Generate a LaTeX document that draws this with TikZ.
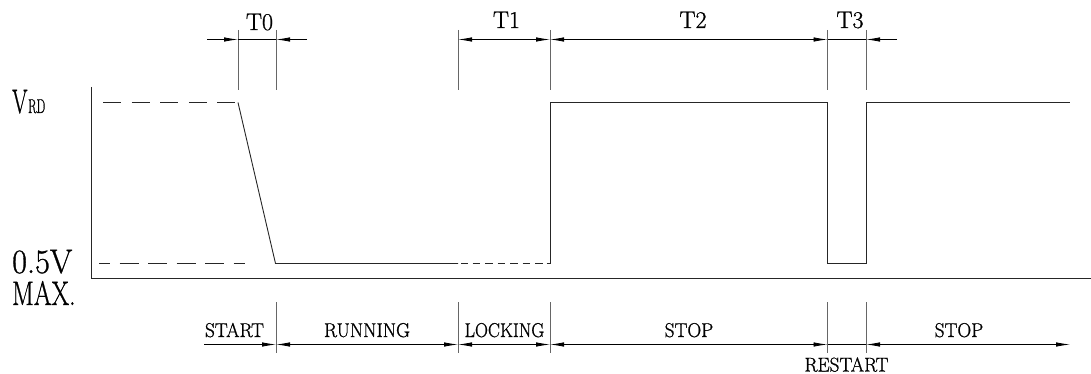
\documentclass[tikz,border=0pt]{standalone}
\usepackage{fontspec}
\newfontfamily\lmh[FakeBold=0.9]{Latin Modern Roman}
\usetikzlibrary{arrows.meta}
\tikzset{
  wave/.style={line width=0.9pt,black!85},
  dashwave/.style={wave,dash pattern=on 18pt off 10.6pt},
  tick/.style={line width=0.9pt,black!60},
  dimline/.style={line width=0.8pt,black,{Latex[length=14pt,width=4.5pt]}-{Latex[length=14pt,width=4.5pt]}},
  endtip/.style={line width=0.8pt,black,-{Latex[length=14pt,width=4.5pt]}},
  lab/.style={inner sep=0pt,anchor=base,xscale=1,font=\lmh\fontsize{24}{24}\selectfont},
  small/.style={inner sep=0pt,anchor=base,xscale=1.0,font=\lmh\fontsize{20}{20}\selectfont},
  big/.style={inner sep=0pt,anchor=base west,font=\lmh\fontsize{34}{34}\selectfont},
}
\begin{document}
\begin{tikzpicture}[x=1pt,y=-1pt]
\useasboundingbox (0,0) rectangle (1091,374);
% axes
\coordinate (axT) at (91.5,87);
\coordinate (axO) at (91.5,278.5);
\coordinate (axR) at (1091,278.5);
\draw[wave] (axT) -- (axO) -- (axR);
% waveform
\coordinate (v1) at (103,102.5);
\coordinate (v2) at (238,102.5);
\coordinate (v3) at (275.5,263.5);
\coordinate (v4) at (458,263.5);
\coordinate (v5) at (550,263.5);
\coordinate (v6) at (550,102.5);
\coordinate (v7) at (827.5,102.5);
\coordinate (v8) at (827.5,263.5);
\coordinate (v9) at (866,263.5);
\coordinate (v10) at (866,102.5);
\coordinate (v11) at (1070,102.5);
\coordinate (d1) at (99,263.5);
\coordinate (d2) at (245,263.5);
\draw[dashwave] (v1) -- (v2);
\draw[wave] (v2) -- (v3) -- (v4);
\draw[wave,dash pattern=on 0pt off 3pt on 6.5pt off 5pt on 7.5pt off 5pt on 7.5pt off 5pt on 7.5pt off 5pt on 7.5pt off 5pt on 7.5pt off 5pt on 7.5pt off 4pt on 10pt off 0pt] (v4) -- (v5);
\draw[wave] (v5) -- (v6) -- (v7) -- (v8) -- (v9) -- (v10) -- (v11);
\draw[wave,dash pattern=on 11pt off 9.5pt on 19pt off 9.5pt on 19pt off 9.5pt on 19pt off 9.5pt on 19pt off 9.5pt on 19pt off 9.5pt on 12pt off 20pt] (d1) -- (d2);
% ticks
\foreach \n/\x in {a/238,b/276,c/458,d/550,e/827.5,f/866}{
  \coordinate (t\n T) at (\x,30);
  \coordinate (t\n B) at (\x,90.5);
  \coordinate (t\n M) at (\x,39.5);
  \draw[tick] (t\n T) -- (t\n B);
  \coordinate (b\n T) at (\x,302);
  \coordinate (b\n B) at (\x,353);
  \coordinate (b\n M) at (\x,344.5);
}
\coordinate (f1) at (207,39.5);
\coordinate (f2) at (307,39.5);
\coordinate (f3) at (897,39.5);
\foreach \n in {b,c,d,e,f}{\draw[tick] (b\n T) -- (b\n B);}
% top dimension arrows
\draw[endtip] (f1) -- (taM);
\draw[line width=0.8pt] (taM) -- (tbM);
\draw[endtip] (f2) -- (tbM);
\draw[dimline] (tcM) -- (tdM);
\draw[dimline] (tdM) -- (teM);
\draw[line width=0.8pt] (teM) -- (tfM);
\draw[endtip] (f3) -- (tfM);
% bottom arrows
\coordinate (g1) at (204,344.5);
\coordinate (g2) at (1070,344.5);
\draw[endtip] (g1) -- (bbM);
\draw[dimline] (bbM) -- (bcM);
\draw[dimline] (bcM) -- (bdM);
\draw[dimline] (bdM) -- (beM);
\draw[line width=0.8pt] (beM) -- (bfM);
\draw[dimline] (bfM) -- (g2);
% labels
\node[lab] (T0) at (259.5,30) {T0};
\node[lab] (T1) at (506.5,28) {T1};
\node[lab] (T2) at (693,28) {T2};
\node[lab] (T3) at (850,28) {T3};
\node[big,xscale=.65] (VV) at (12,113) {V};
\node[small,anchor=base west,xscale=.62] (RD) at (28,113) {RD};
\node[big,xscale=.95] (h) at (12,273) {0.5V};
\node[big,xscale=.75] (m) at (12,305) {MAX.};
\node[small,xscale=.96] (s1) at (234.5,337) {START};
\node[small,xscale=.96] (s2) at (367,337) {RUNNING};
\node[small,xscale=.9] (s3) at (504.5,337) {LOCKING};
\node[small,xscale=.96] (s4) at (689,337) {STOP};
\node[small,xscale=.96] (s5) at (846.5,371.5) {RESTART};
\node[small,xscale=.96] (s6) at (959,337) {STOP};
\end{tikzpicture}
\end{document}
